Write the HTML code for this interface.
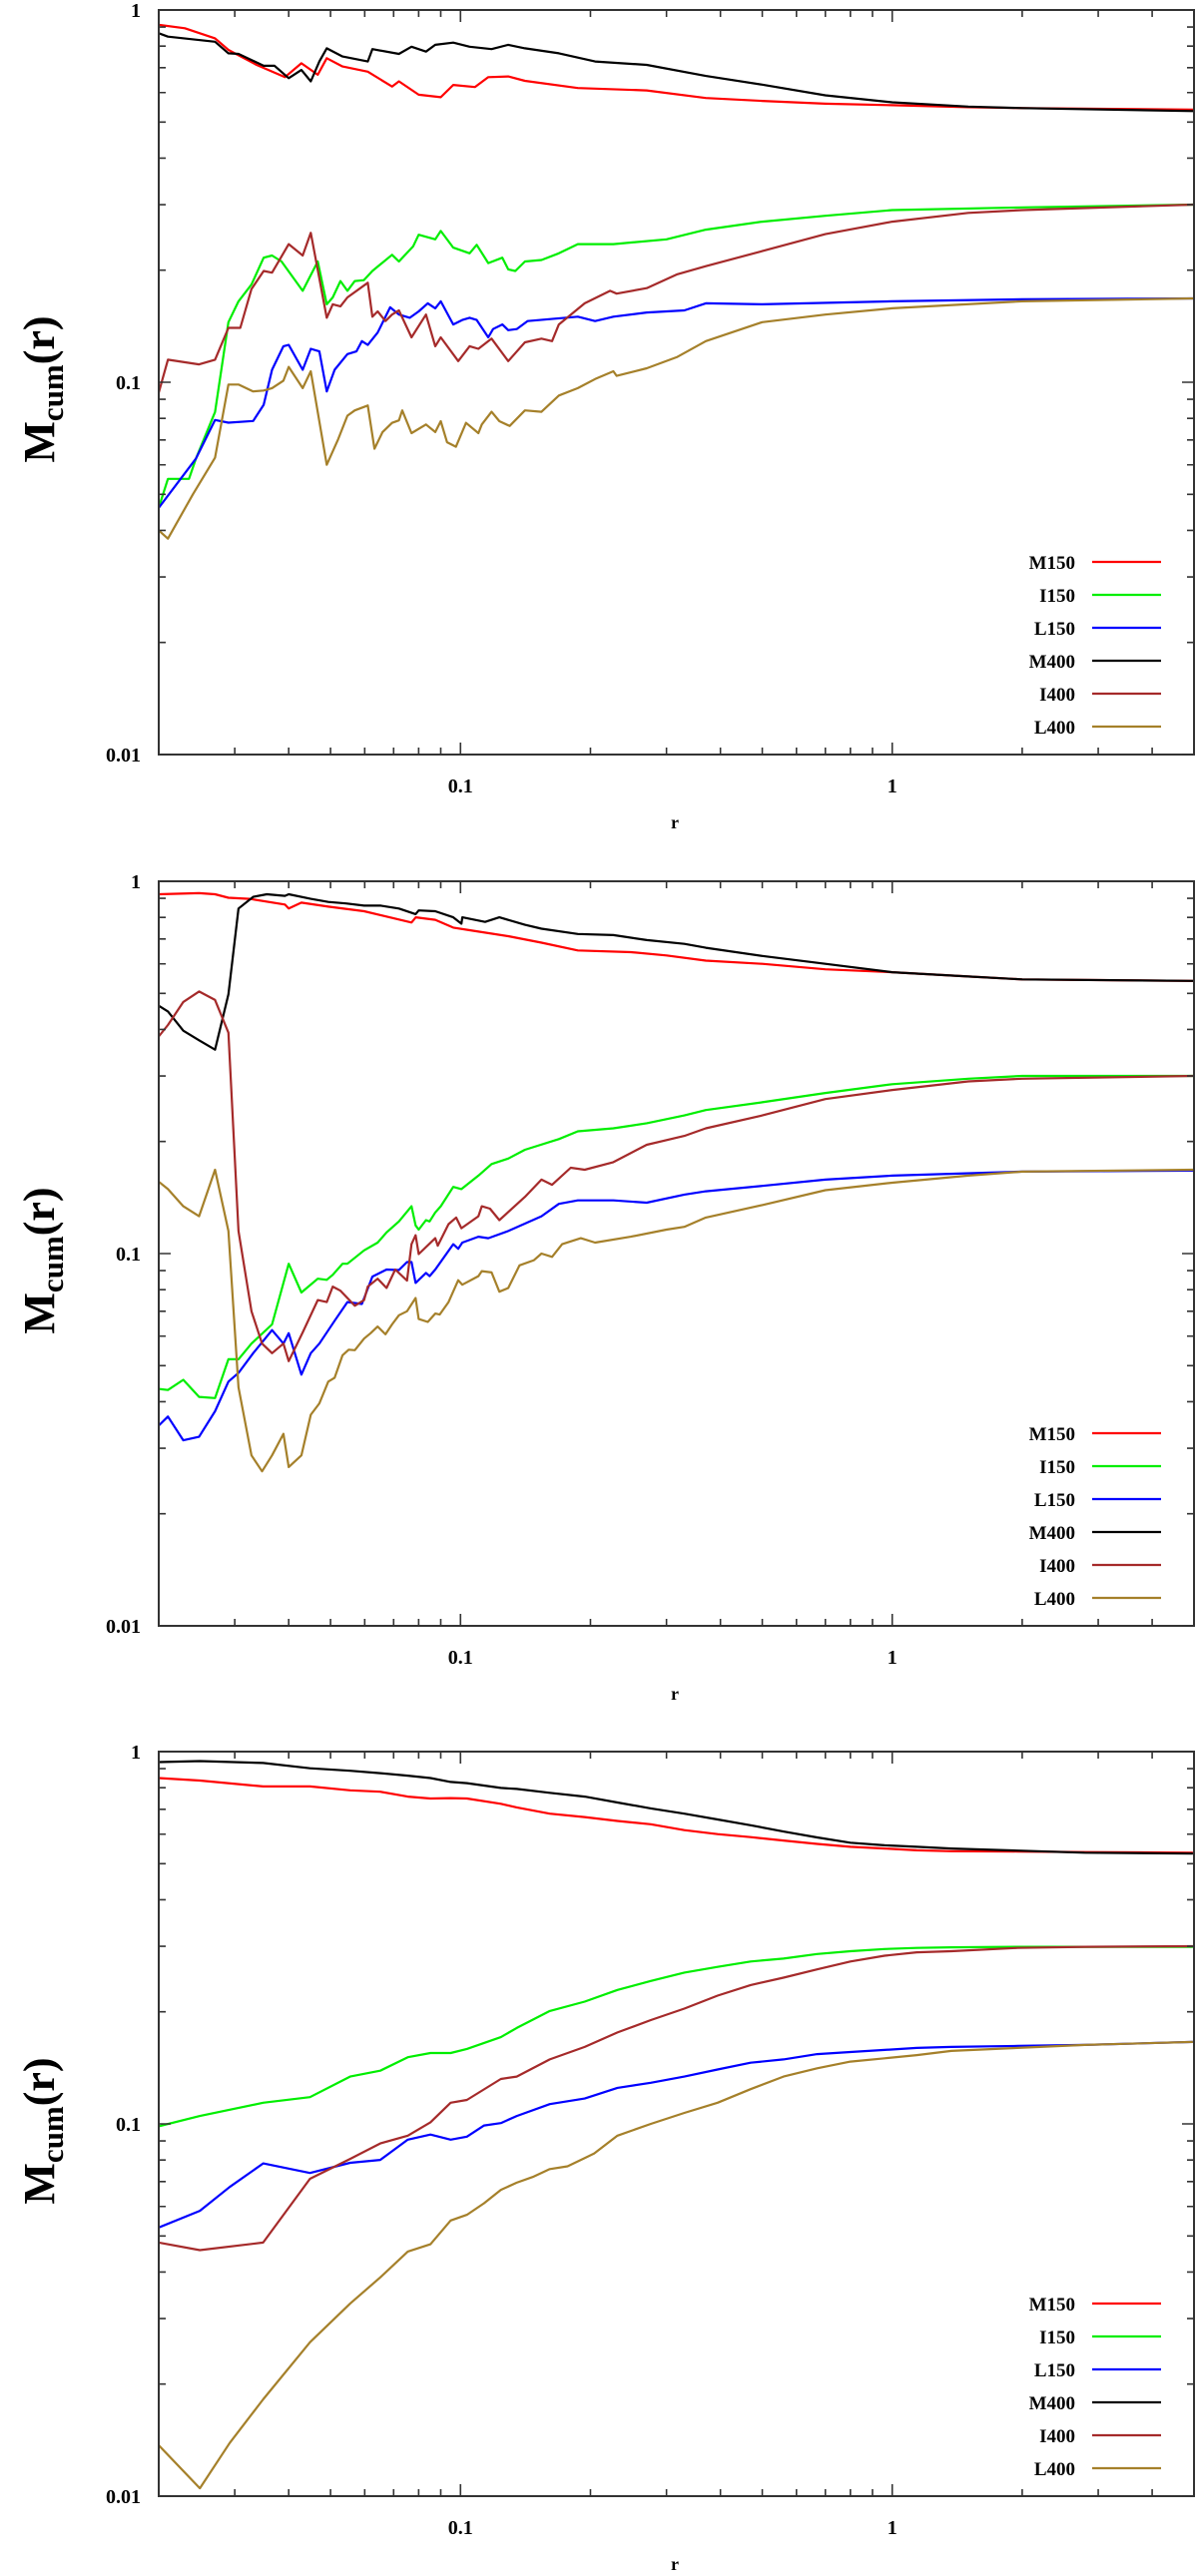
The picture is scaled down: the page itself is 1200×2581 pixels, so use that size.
<!DOCTYPE html>
<html><head><meta charset="utf-8"><style>
html,body{margin:0;padding:0;background:#fff;}
svg{display:block;font-family:"Liberation Serif",serif;font-weight:bold;}
</style></head><body>
<svg id="chart" width="1200" height="2581" viewBox="0 0 1200 2581" xmlns="http://www.w3.org/2000/svg"></svg>
<script>
// ---------- Panel 1 data ----------
const p1_r_M150=[0.02,0.023,0.027,0.029,0.0337,0.0392,0.0428,0.0467,0.049,0.0533,0.061,0.0694,0.072,0.080,0.090,0.0962,0.108,0.116,0.129,0.141,0.187,0.27,0.37,0.5,0.7,1,1.5,2,5];
const p1_m_M150=[0.912,0.893,0.839,0.781,0.712,0.66,0.719,0.67,0.742,0.705,0.683,0.623,0.643,0.592,0.583,0.629,0.621,0.66,0.663,0.645,0.617,0.608,0.58,0.57,0.56,0.555,0.548,0.545,0.54];
const p1_r_M400=[0.02,0.021,0.027,0.029,0.0306,0.035,0.0371,0.040,0.0428,0.045,0.0471,0.049,0.0533,0.061,0.0625,0.072,0.077,0.0832,0.0874,0.0962,0.105,0.118,0.129,0.141,0.169,0.205,0.27,0.37,0.5,0.7,1,1.5,2,5];
const p1_m_M400=[0.866,0.848,0.822,0.765,0.762,0.708,0.708,0.656,0.690,0.643,0.727,0.789,0.75,0.727,0.785,0.762,0.797,0.773,0.806,0.817,0.797,0.785,0.806,0.789,0.765,0.727,0.712,0.665,0.63,0.59,0.565,0.55,0.545,0.535];
const p1_r_I150=[0.02,0.021,0.0235,0.0244,0.027,0.029,0.0306,0.0328,0.035,0.0366,0.0385,0.0431,0.0467,0.049,0.0506,0.0527,0.0547,0.0569,0.0597,0.0625,0.0694,0.072,0.0777,0.080,0.0874,0.090,0.0962,0.105,0.109,0.116,0.125,0.129,0.134,0.141,0.154,0.169,0.187,0.226,0.30,0.37,0.5,0.7,1,2,5];
const p1_m_I150=[0.046,0.055,0.055,0.0624,0.0832,0.145,0.165,0.183,0.216,0.219,0.211,0.176,0.211,0.162,0.169,0.187,0.176,0.187,0.188,0.199,0.22,0.211,0.232,0.249,0.242,0.255,0.23,0.222,0.234,0.209,0.216,0.201,0.199,0.211,0.213,0.222,0.235,0.235,0.242,0.257,0.27,0.28,0.29,0.295,0.30];
const p1_r_I400=[0.02,0.021,0.0248,0.027,0.029,0.0309,0.0328,0.035,0.0366,0.040,0.0431,0.045,0.049,0.0506,0.0527,0.0547,0.061,0.0625,0.0643,0.067,0.0694,0.072,0.077,0.0832,0.0874,0.090,0.0988,0.105,0.110,0.118,0.129,0.141,0.154,0.163,0.169,0.194,0.222,0.23,0.27,0.318,0.37,0.5,0.7,1,1.5,2,5];
const p1_m_I400=[0.0938,0.115,0.1117,0.115,0.140,0.140,0.178,0.199,0.197,0.235,0.219,0.252,0.149,0.162,0.160,0.169,0.185,0.150,0.155,0.146,0.152,0.156,0.132,0.152,0.125,0.132,0.114,0.125,0.123,0.131,0.114,0.128,0.131,0.129,0.143,0.163,0.176,0.173,0.179,0.195,0.205,0.225,0.25,0.27,0.285,0.29,0.30];
const p1_r_L150=[0.02,0.0244,0.027,0.029,0.0331,0.035,0.0366,0.0389,0.040,0.0431,0.045,0.0471,0.049,0.0511,0.0547,0.0574,0.0591,0.061,0.0643,0.0687,0.072,0.0763,0.080,0.084,0.0874,0.090,0.0962,0.101,0.105,0.109,0.116,0.119,0.125,0.129,0.135,0.143,0.187,0.205,0.226,0.27,0.33,0.37,0.5,1,2,5];
const p1_m_L150=[0.046,0.0624,0.0792,0.0779,0.0787,0.0870,0.108,0.125,0.126,0.108,0.123,0.121,0.0945,0.108,0.119,0.121,0.129,0.126,0.136,0.159,0.152,0.149,0.155,0.163,0.158,0.165,0.143,0.147,0.149,0.147,0.132,0.139,0.143,0.138,0.139,0.146,0.150,0.146,0.150,0.154,0.156,0.163,0.162,0.165,0.167,0.168];
const p1_r_L400=[0.02,0.021,0.024,0.027,0.029,0.0306,0.0331,0.035,0.0366,0.0389,0.040,0.0431,0.045,0.049,0.0521,0.0547,0.0569,0.061,0.0632,0.066,0.0694,0.072,0.0733,0.077,0.0832,0.0874,0.090,0.0931,0.0976,0.103,0.110,0.112,0.118,0.123,0.130,0.141,0.154,0.169,0.187,0.205,0.226,0.23,0.27,0.318,0.37,0.5,0.7,1,2,5];
const p1_m_L400=[0.040,0.038,0.050,0.0627,0.0986,0.0986,0.0945,0.095,0.0964,0.101,0.110,0.0964,0.107,0.060,0.0704,0.0813,0.084,0.0866,0.0663,0.0735,0.0778,0.079,0.084,0.073,0.077,0.0735,0.0786,0.069,0.0671,0.0778,0.073,0.077,0.0833,0.0786,0.0763,0.084,0.0833,0.0921,0.0964,0.102,0.107,0.104,0.109,0.117,0.129,0.145,0.152,0.158,0.165,0.168];
// ---------- Panel 2 data ----------
const p2_r_M150=[0.02,0.0248,0.027,0.029,0.0325,0.0392,0.040,0.0428,0.0494,0.0598,0.077,0.0788,0.0874,0.0962,0.105,0.129,0.154,0.187,0.248,0.30,0.37,0.5,0.7,1,1.5,2,5];
const p2_m_M150=[0.923,0.929,0.923,0.903,0.897,0.866,0.845,0.876,0.855,0.831,0.775,0.80,0.788,0.751,0.739,0.712,0.684,0.652,0.645,0.632,0.612,0.60,0.58,0.57,0.555,0.545,0.54];
const p2_r_M400=[0.02,0.021,0.0228,0.0248,0.027,0.029,0.0306,0.0331,0.0356,0.0392,0.040,0.045,0.0494,0.0543,0.0598,0.0654,0.072,0.0787,0.080,0.0874,0.0962,0.1005,0.101,0.114,0.123,0.141,0.154,0.187,0.226,0.27,0.33,0.37,0.5,0.7,1,1.5,2,5];
const p2_m_M400=[0.463,0.447,0.397,0.374,0.353,0.497,0.845,0.908,0.923,0.914,0.923,0.897,0.88,0.872,0.86,0.86,0.845,0.816,0.835,0.831,0.80,0.769,0.80,0.778,0.80,0.764,0.746,0.722,0.717,0.695,0.679,0.663,0.63,0.60,0.57,0.555,0.545,0.54];
const p2_r_I150=[0.02,0.021,0.0228,0.0248,0.027,0.029,0.0306,0.0328,0.0366,0.040,0.0428,0.0467,0.049,0.0506,0.0533,0.0547,0.0598,0.0643,0.0674,0.072,0.077,0.0787,0.080,0.0832,0.0848,0.0874,0.090,0.0962,0.1005,0.110,0.118,0.129,0.141,0.169,0.187,0.226,0.27,0.33,0.37,0.5,0.7,1,1.5,2,5];
const p2_m_I150=[0.0433,0.043,0.0458,0.0412,0.0409,0.052,0.052,0.0573,0.0645,0.0939,0.0786,0.0856,0.085,0.0877,0.0939,0.0939,0.102,0.107,0.114,0.122,0.134,0.119,0.116,0.123,0.122,0.129,0.134,0.151,0.149,0.162,0.174,0.180,0.19,0.203,0.213,0.217,0.224,0.235,0.243,0.255,0.27,0.285,0.295,0.30,0.30];
const p2_r_I400=[0.02,0.021,0.0228,0.0248,0.027,0.029,0.0306,0.0328,0.0347,0.0366,0.0389,0.040,0.0431,0.0467,0.049,0.0506,0.0527,0.0569,0.0598,0.061,0.0643,0.0674,0.0706,0.0752,0.077,0.0787,0.080,0.0874,0.0886,0.0938,0.0977,0.1005,0.110,0.112,0.117,0.123,0.141,0.154,0.163,0.18,0.194,0.226,0.27,0.33,0.37,0.5,0.7,1,1.5,2,5];
const p2_m_I400=[0.383,0.411,0.474,0.506,0.48,0.392,0.115,0.070,0.0573,0.054,0.0573,0.0514,0.0614,0.075,0.0741,0.0815,0.0795,0.0724,0.075,0.0815,0.0856,0.0808,0.0906,0.0846,0.106,0.112,0.0997,0.110,0.105,0.12,0.125,0.117,0.126,0.134,0.132,0.123,0.142,0.158,0.153,0.170,0.168,0.176,0.196,0.207,0.217,0.235,0.26,0.275,0.29,0.295,0.30];
const p2_r_L150=[0.02,0.021,0.0228,0.0248,0.027,0.029,0.0306,0.0331,0.0366,0.0389,0.040,0.0428,0.045,0.0471,0.0511,0.0547,0.0591,0.0625,0.0674,0.072,0.0752,0.077,0.0787,0.0832,0.0848,0.0874,0.0962,0.0988,0.101,0.110,0.116,0.129,0.138,0.154,0.169,0.187,0.226,0.27,0.33,0.37,0.5,0.7,1,2,5];
const p2_m_L150=[0.0345,0.0365,0.0315,0.0322,0.0377,0.0453,0.0478,0.054,0.0623,0.0573,0.0611,0.0473,0.054,0.0573,0.066,0.0741,0.0732,0.0867,0.0906,0.0903,0.0949,0.0949,0.0834,0.0887,0.087,0.0906,0.106,0.103,0.107,0.111,0.110,0.115,0.119,0.126,0.136,0.139,0.139,0.137,0.144,0.147,0.152,0.158,0.162,0.166,0.167];
const p2_r_L400=[0.02,0.021,0.0228,0.0248,0.027,0.029,0.0306,0.0328,0.0347,0.0366,0.0389,0.040,0.0428,0.045,0.0471,0.0494,0.0511,0.0533,0.0551,0.0569,0.0598,0.0619,0.0643,0.067,0.0694,0.072,0.0752,0.0787,0.080,0.084,0.0874,0.0895,0.0938,0.0988,0.101,0.110,0.112,0.118,0.123,0.129,0.137,0.148,0.154,0.163,0.172,0.19,0.205,0.248,0.30,0.33,0.37,0.5,0.7,1,1.5,2,5];
const p2_m_L400=[0.156,0.149,0.134,0.126,0.168,0.115,0.0437,0.0287,0.026,0.0287,0.0328,0.0267,0.0287,0.0369,0.0396,0.0453,0.0464,0.0533,0.0552,0.055,0.0591,0.0611,0.0637,0.0607,0.0645,0.0683,0.070,0.076,0.0667,0.0655,0.069,0.0686,0.0741,0.0848,0.0825,0.087,0.0897,0.089,0.079,0.0808,0.093,0.096,0.100,0.098,0.106,0.110,0.107,0.111,0.116,0.118,0.125,0.135,0.148,0.155,0.162,0.166,0.168];
// ---------- Panel 3 data ----------
const p3_r=[0.02,0.0249,0.0349,0.0448,0.0555,0.0652,0.0755,0.0852,0.0949,0.1035,0.124,0.135,0.161,0.194,0.231,0.276,0.33,0.394,0.47,0.56,0.67,0.8,0.96,1.14,1.37,1.95,2.79,4.97];
const p3_m_M400=[0.937,0.943,0.932,0.902,0.888,0.875,0.862,0.849,0.829,0.823,0.799,0.794,0.775,0.757,0.73,0.704,0.681,0.657,0.634,0.61,0.588,0.569,0.56,0.555,0.549,0.542,0.535,0.532];
const p3_m_M150=[0.849,0.836,0.806,0.806,0.787,0.78,0.757,0.748,0.75,0.748,0.724,0.708,0.681,0.667,0.651,0.638,0.615,0.60,0.589,0.577,0.565,0.555,0.549,0.543,0.54,0.539,0.537,0.535];
const p3_m_I150=[0.0985,0.105,0.114,0.118,0.134,0.139,0.151,0.155,0.155,0.159,0.171,0.181,0.201,0.213,0.229,0.242,0.255,0.264,0.273,0.278,0.286,0.291,0.295,0.297,0.298,0.299,0.299,0.299];
const p3_m_I400=[0.048,0.0458,0.048,0.0712,0.0805,0.0886,0.093,0.101,0.114,0.116,0.132,0.134,0.149,0.161,0.176,0.19,0.204,0.221,0.236,0.247,0.26,0.273,0.283,0.289,0.291,0.297,0.299,0.30];
const p3_r_L150=[0.02,0.0249,0.0292,0.0349,0.0448,0.0555,0.0652,0.0755,0.0852,0.0949,0.1035,0.1134,0.124,0.135,0.161,0.194,0.231,0.276,0.33,0.394,0.47,0.56,0.67,0.8,0.96,1.14,1.37,1.95,2.79,4.97];
const p3_m_L150=[0.0527,0.0584,0.0677,0.0783,0.0738,0.0786,0.08,0.0907,0.0936,0.0907,0.0924,0.099,0.1005,0.105,0.113,0.117,0.125,0.129,0.134,0.14,0.146,0.149,0.154,0.156,0.158,0.16,0.161,0.162,0.163,0.166];
const p3_r_L400=[0.02,0.0249,0.0292,0.0349,0.0448,0.0555,0.0652,0.0755,0.0852,0.0949,0.1035,0.1134,0.124,0.135,0.147,0.161,0.177,0.194,0.204,0.231,0.276,0.33,0.394,0.47,0.56,0.67,0.8,0.96,1.14,1.37,1.95,2.79,4.97];
const p3_m_L400=[0.0137,0.0105,0.0139,0.0182,0.0259,0.0329,0.0387,0.0454,0.0475,0.055,0.057,0.0612,0.0665,0.0695,0.072,0.0756,0.0769,0.0809,0.0833,0.093,0.1,0.107,0.114,0.124,0.134,0.141,0.147,0.15,0.153,0.157,0.16,0.163,0.166];
// ---------- axes / labels ----------
const xTickLabels=["0.1","1"];
const xTickValues=[0.1,1];
const yTickLabels=["1","0.1","0.01"];
const yTickValues=[1,0.1,0.01];
const legendNames=["M150","I150","L150","M400","I400","L400"];
const legendColors=["#ff0000","#00ee00","#0000ff","#000000","#a52a2a","#a5802a"];

const NS="http://www.w3.org/2000/svg";
const svg=document.getElementById('chart');
const XMIN=0.02,XMAX=5,YMIN=0.01,YMAX=1;
const PL=159,PR=1196,PH=746;
function xs(r){return PL+(Math.log10(r)-Math.log10(XMIN))/(Math.log10(XMAX)-Math.log10(XMIN))*(PR-PL);}
function ys(m,top){return top+(Math.log10(YMAX)-Math.log10(m))/(Math.log10(YMAX)-Math.log10(YMIN))*PH;}
function mk(tag,attrs,parent){const e=document.createElementNS(NS,tag);for(const k in attrs)e.setAttribute(k,attrs[k]);(parent||svg).appendChild(e);return e;}

const panels=[
 {top:10,series:[[p1_r_M150,p1_m_M150],[p1_r_I150,p1_m_I150],[p1_r_L150,p1_m_L150],[p1_r_M400,p1_m_M400],[p1_r_I400,p1_m_I400],[p1_r_L400,p1_m_L400]]},
 {top:883,series:[[p2_r_M150,p2_m_M150],[p2_r_I150,p2_m_I150],[p2_r_L150,p2_m_L150],[p2_r_M400,p2_m_M400],[p2_r_I400,p2_m_I400],[p2_r_L400,p2_m_L400]]},
 {top:1755,series:[[p3_r,p3_m_M150],[p3_r,p3_m_I150],[p3_r_L150,p3_m_L150],[p3_r,p3_m_M400],[p3_r,p3_m_I400],[p3_r_L400,p3_m_L400]]}
];

panels.forEach((p,pi)=>{
  const T=p.top,B=T+PH;
  const g=mk('g',{});
  
  
  const defs=mk('defs',{},g);
  const cp=mk('clipPath',{id:'clip'+pi},defs);
  mk('rect',{x:PL,y:T,width:PR-PL,height:PH},cp);
  p.series.forEach((s,si)=>{
    const [rs,ms]=s;const n=Math.min(rs.length,ms.length);
    let d='';for(let i=0;i<n;i++){d+=(i?'L':'M')+xs(rs[i]).toFixed(1)+' '+ys(ms[i],T).toFixed(1);}
    const path=mk('path',{d:d,fill:'none',stroke:legendColors[si],'stroke-width':2.2,'stroke-linejoin':'round','clip-path':'url(#clip'+pi+')'},g);
    
    
  });
  const fr=mk('rect',{x:PL,y:T,width:PR-PL,height:PH,fill:'none',stroke:'#333','stroke-width':2},g);
  
  
  let td='';
  for(let dec=-2;dec<=0;dec++){for(let k=1;k<=9;k++){const v=k*Math.pow(10,dec);if(v<XMIN-1e-9||v>XMAX+1e-9)continue;const x=xs(v);const L=(k===1)?12:7;td+=`M${x} ${B}v${-L}M${x} ${T}v${L}`;}}
  for(let dec=-2;dec<=-1;dec++){for(let k=1;k<=9;k++){const v=k*Math.pow(10,dec);const y=ys(v,T);const L=(k===1)?12:7;td+=`M${PL} ${y}h${L}M${PR} ${y}h${-L}`;}}
  const tk=mk('path',{d:td,stroke:'#333','stroke-width':1.6,fill:'none'},g);
  
  
  yTickLabels.forEach((lab,i)=>{const t=mk('text',{x:141,y:ys(yTickValues[i],T)+7,'text-anchor':'end','font-size':20},g);t.textContent=lab;
    
    });
  xTickLabels.forEach((lab,i)=>{const t=mk('text',{x:xs(xTickValues[i]),y:B+38,'text-anchor':'middle','font-size':20},g);t.textContent=lab;
    
    });
  const xt=mk('text',{x:676,y:B+74,'text-anchor':'middle','font-size':18},g);xt.textContent='r';
  
  
  const yt=mk('text',{x:0,y:0,'text-anchor':'middle','font-size':44,transform:`translate(54 ${T+380}) rotate(-90)`},g);
  
  
  yt.appendChild(document.createTextNode('M'));
  const sub=mk('tspan',{'font-size':31,dy:9},yt);sub.textContent='cum';
  const rp=mk('tspan',{dy:-9},yt);rp.textContent='(r)';
  legendNames.forEach((nm,i)=>{
    const ly=T+553+i*33;
    const lg=mk('g',{},g);
    
    
    const t=mk('text',{x:1077,y:ly+7,'text-anchor':'end','font-size':19},lg);t.textContent=nm;
    mk('line',{x1:1094,x2:1163,y1:ly,y2:ly,stroke:legendColors[i],'stroke-width':2.2},lg);
  });
});
</script>
</body></html>
